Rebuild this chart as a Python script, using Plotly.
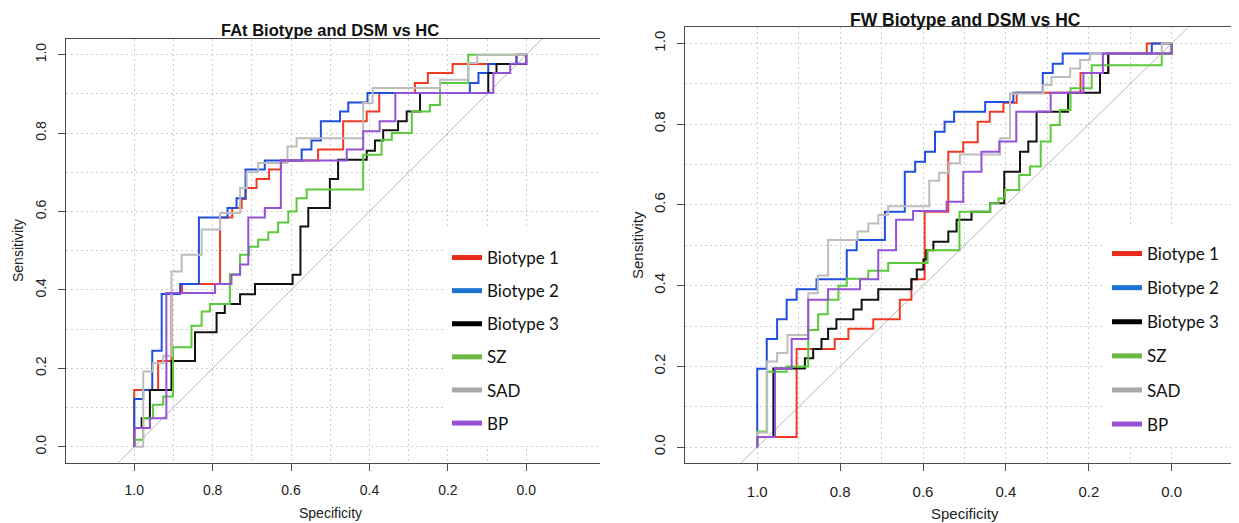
import plotly.graph_objects as go

# The page body adds an 8px margin, so the figure is laid out in page pixels minus that offset.
PAGE_W, PAGE_H, OFF = 1239, 523, 8
W, H = PAGE_W - OFF, PAGE_H - OFF

GROUPS = ["Biotype 1", "Biotype 2", "Biotype 3", "SZ", "SAD", "BP"]
CURVE_COLORS = ["#ef3b24", "#1f4fdc", "#111111", "#5cc93b", "#bdbdbd", "#9452d6"]
LEGEND_COLORS = ["#e8291c", "#1c74d4", "#000000", "#6bb843", "#a9a9a9", "#9b51d4"]
TICK_VALS = [1.0, 0.8, 0.6, 0.4, 0.2, 0.0]
TICK_TEXT = ["1.0", "0.8", "0.6", "0.4", "0.2", "0.0"]
MINOR_VALS = [0.9, 0.7, 0.5, 0.3, 0.1]
PANEL_TITLES = ["FAt Biotype and DSM vs HC", "FW Biotype and DSM vs HC"]

# ---- FAt panel: (specificity, sensitivity) ROC points ----
FAT_B1 = [(1.000,0.000),(1.000,0.145),(0.939,0.145),(0.939,0.219),(0.905,0.219),(0.905,0.392),(0.878,0.392),(0.878,0.415),(0.781,0.415),(0.781,0.585),(0.750,0.585),(0.750,0.609),(0.726,0.609),(0.726,0.632),(0.716,0.632),(0.716,0.660),(0.688,0.660),(0.688,0.683),(0.656,0.683),(0.656,0.707),(0.626,0.707),(0.626,0.730),(0.531,0.730),(0.531,0.758),(0.467,0.758),(0.467,0.830),(0.407,0.830),(0.407,0.855),(0.375,0.855),(0.375,0.902),(0.284,0.902),(0.284,0.928),(0.251,0.928),(0.251,0.953),(0.188,0.953),(0.188,0.976),(0.025,0.976),(0.025,1.000),(0.000,1.000)]
FAT_B2 = [(1.000,0.000),(1.000,0.122),(0.977,0.122),(0.977,0.145),(0.954,0.145),(0.954,0.245),(0.930,0.245),(0.930,0.390),(0.883,0.390),(0.883,0.415),(0.835,0.415),(0.835,0.585),(0.762,0.585),(0.762,0.609),(0.739,0.609),(0.739,0.634),(0.716,0.634),(0.716,0.707),(0.667,0.707),(0.667,0.730),(0.573,0.730),(0.573,0.758),(0.548,0.758),(0.548,0.781),(0.524,0.781),(0.524,0.830),(0.475,0.830),(0.475,0.855),(0.454,0.855),(0.454,0.878),(0.405,0.878),(0.405,0.902),(0.144,0.902),(0.144,0.928),(0.122,0.928),(0.122,0.953),(0.097,0.953),(0.097,0.976),(0.025,0.976),(0.025,1.000),(0.000,1.000)]
FAT_B3 = [(1.000,0.000),(1.000,0.048),(0.981,0.048),(0.981,0.073),(0.960,0.073),(0.960,0.145),(0.905,0.145),(0.905,0.219),(0.845,0.219),(0.845,0.292),(0.790,0.292),(0.790,0.341),(0.769,0.341),(0.769,0.364),(0.730,0.364),(0.730,0.389),(0.692,0.389),(0.692,0.415),(0.596,0.415),(0.596,0.439),(0.576,0.439),(0.576,0.562),(0.556,0.562),(0.556,0.609),(0.501,0.609),(0.501,0.683),(0.480,0.683),(0.480,0.732),(0.407,0.732),(0.407,0.755),(0.386,0.755),(0.386,0.781),(0.365,0.781),(0.365,0.807),(0.327,0.807),(0.327,0.830),(0.305,0.830),(0.305,0.855),(0.271,0.855),(0.271,0.902),(0.097,0.902),(0.097,0.953),(0.076,0.953),(0.076,0.976),(0.000,0.976),(0.000,1.000)]
FAT_SZ = [(1.000,0.000),(1.000,0.018),(0.977,0.018),(0.977,0.073),(0.952,0.073),(0.952,0.107),(0.926,0.107),(0.926,0.128),(0.901,0.128),(0.901,0.254),(0.854,0.254),(0.854,0.309),(0.828,0.309),(0.828,0.345),(0.807,0.345),(0.807,0.364),(0.756,0.364),(0.756,0.440),(0.730,0.440),(0.730,0.490),(0.707,0.490),(0.707,0.510),(0.684,0.510),(0.684,0.528),(0.658,0.528),(0.658,0.547),(0.633,0.547),(0.633,0.572),(0.607,0.572),(0.607,0.600),(0.586,0.600),(0.586,0.634),(0.560,0.634),(0.560,0.656),(0.416,0.656),(0.416,0.745),(0.369,0.745),(0.369,0.783),(0.343,0.783),(0.343,0.800),(0.292,0.800),(0.292,0.855),(0.246,0.855),(0.246,0.872),(0.220,0.872),(0.220,0.928),(0.148,0.928),(0.148,1.000),(0.000,1.000)]
FAT_SAD = [(1.000,0.000),(0.977,0.000),(0.977,0.192),(0.952,0.192),(0.952,0.213),(0.926,0.213),(0.926,0.232),(0.905,0.232),(0.905,0.447),(0.879,0.447),(0.879,0.490),(0.828,0.490),(0.828,0.554),(0.781,0.554),(0.781,0.596),(0.730,0.596),(0.730,0.660),(0.713,0.660),(0.713,0.700),(0.684,0.700),(0.684,0.724),(0.609,0.724),(0.609,0.766),(0.586,0.766),(0.586,0.787),(0.416,0.787),(0.416,0.877),(0.392,0.877),(0.392,0.915),(0.220,0.915),(0.220,0.936),(0.148,0.936),(0.148,0.979),(0.125,0.979),(0.125,1.000),(0.000,1.000)]
FAT_BP = [(1.000,0.000),(1.000,0.048),(0.960,0.048),(0.960,0.073),(0.918,0.073),(0.918,0.392),(0.794,0.392),(0.794,0.415),(0.752,0.415),(0.752,0.439),(0.730,0.439),(0.730,0.465),(0.709,0.465),(0.709,0.585),(0.667,0.585),(0.667,0.609),(0.626,0.609),(0.626,0.730),(0.458,0.730),(0.458,0.758),(0.416,0.758),(0.416,0.805),(0.374,0.805),(0.374,0.830),(0.334,0.830),(0.334,0.902),(0.084,0.902),(0.084,0.953),(0.041,0.953),(0.041,0.977),(0.000,0.977),(0.000,1.000)]

# ---- FW panel ----
FW_B1 = [(1.000,0.000),(1.000,0.025),(0.905,0.025),(0.905,0.243),(0.813,0.243),(0.813,0.268),(0.780,0.268),(0.780,0.293),(0.720,0.293),(0.720,0.317),(0.656,0.317),(0.656,0.365),(0.628,0.365),(0.628,0.416),(0.596,0.416),(0.596,0.583),(0.539,0.583),(0.539,0.732),(0.503,0.732),(0.503,0.755),(0.468,0.755),(0.468,0.806),(0.439,0.806),(0.439,0.831),(0.406,0.831),(0.406,0.853),(0.374,0.853),(0.374,0.878),(0.220,0.878),(0.220,0.927),(0.153,0.927),(0.153,0.975),(0.060,0.975),(0.060,1.000),(0.000,1.000)]
FW_B2 = [(1.000,0.000),(1.000,0.194),(0.977,0.194),(0.977,0.268),(0.952,0.268),(0.952,0.317),(0.929,0.317),(0.929,0.365),(0.905,0.365),(0.905,0.391),(0.857,0.391),(0.857,0.416),(0.784,0.416),(0.784,0.488),(0.760,0.488),(0.760,0.513),(0.692,0.513),(0.692,0.583),(0.644,0.583),(0.644,0.682),(0.619,0.682),(0.619,0.707),(0.595,0.707),(0.595,0.732),(0.571,0.732),(0.571,0.781),(0.548,0.781),(0.548,0.806),(0.525,0.806),(0.525,0.831),(0.450,0.831),(0.450,0.855),(0.382,0.855),(0.382,0.878),(0.311,0.878),(0.311,0.927),(0.287,0.927),(0.287,0.950),(0.263,0.950),(0.263,0.975),(0.048,0.975),(0.048,1.000),(0.000,1.000)]
FW_B3 = [(1.000,0.000),(1.000,0.025),(0.961,0.025),(0.961,0.195),(0.885,0.195),(0.885,0.220),(0.865,0.220),(0.865,0.243),(0.845,0.243),(0.845,0.268),(0.829,0.268),(0.829,0.293),(0.809,0.293),(0.809,0.317),(0.768,0.317),(0.768,0.341),(0.748,0.341),(0.748,0.365),(0.708,0.365),(0.708,0.391),(0.628,0.391),(0.628,0.416),(0.615,0.416),(0.615,0.440),(0.599,0.440),(0.599,0.465),(0.592,0.465),(0.592,0.488),(0.575,0.488),(0.575,0.509),(0.539,0.509),(0.539,0.534),(0.519,0.534),(0.519,0.563),(0.483,0.563),(0.483,0.583),(0.438,0.583),(0.438,0.604),(0.404,0.604),(0.404,0.682),(0.366,0.682),(0.366,0.732),(0.346,0.732),(0.346,0.757),(0.326,0.757),(0.326,0.831),(0.250,0.831),(0.250,0.878),(0.173,0.878),(0.173,0.927),(0.153,0.927),(0.153,0.975),(0.000,0.975),(0.000,1.000)]
FW_SZ = [(1.000,0.000),(1.000,0.039),(0.977,0.039),(0.977,0.187),(0.929,0.187),(0.929,0.200),(0.877,0.200),(0.877,0.290),(0.853,0.290),(0.853,0.329),(0.830,0.329),(0.830,0.365),(0.804,0.365),(0.804,0.400),(0.784,0.400),(0.784,0.417),(0.732,0.417),(0.732,0.437),(0.684,0.437),(0.684,0.456),(0.589,0.456),(0.589,0.488),(0.512,0.488),(0.512,0.583),(0.438,0.583),(0.438,0.604),(0.418,0.604),(0.418,0.616),(0.402,0.616),(0.402,0.637),(0.368,0.637),(0.368,0.674),(0.342,0.674),(0.342,0.695),(0.316,0.695),(0.316,0.757),(0.292,0.757),(0.292,0.798),(0.270,0.798),(0.270,0.835),(0.244,0.835),(0.244,0.889),(0.193,0.889),(0.193,0.946),(0.024,0.946),(0.024,0.975),(0.000,0.975),(0.000,1.000)]
FW_SAD = [(1.000,0.000),(1.000,0.036),(0.976,0.036),(0.976,0.212),(0.952,0.212),(0.952,0.233),(0.927,0.233),(0.927,0.278),(0.877,0.278),(0.877,0.381),(0.854,0.381),(0.854,0.425),(0.829,0.425),(0.829,0.513),(0.758,0.513),(0.758,0.534),(0.732,0.534),(0.732,0.554),(0.708,0.554),(0.708,0.575),(0.684,0.575),(0.684,0.597),(0.585,0.597),(0.585,0.660),(0.561,0.660),(0.561,0.680),(0.537,0.680),(0.537,0.703),(0.511,0.703),(0.511,0.725),(0.414,0.725),(0.414,0.765),(0.390,0.765),(0.390,0.876),(0.310,0.876),(0.310,0.897),(0.290,0.897),(0.290,0.917),(0.245,0.917),(0.245,0.938),(0.221,0.938),(0.221,0.959),(0.197,0.959),(0.197,0.975),(0.024,0.975),(0.024,1.000),(0.000,1.000)]
FW_BP = [(1.000,0.000),(1.000,0.025),(0.957,0.025),(0.957,0.195),(0.917,0.195),(0.917,0.268),(0.877,0.268),(0.877,0.365),(0.829,0.365),(0.829,0.391),(0.752,0.391),(0.752,0.416),(0.708,0.416),(0.708,0.488),(0.665,0.488),(0.665,0.563),(0.624,0.563),(0.624,0.585),(0.543,0.585),(0.543,0.608),(0.503,0.608),(0.503,0.682),(0.459,0.682),(0.459,0.732),(0.416,0.732),(0.416,0.757),(0.375,0.757),(0.375,0.831),(0.292,0.831),(0.292,0.878),(0.213,0.878),(0.213,0.927),(0.166,0.927),(0.166,0.975),(0.000,0.975),(0.000,1.000)]

FAT_CURVES = [FAT_B1, FAT_B2, FAT_B3, FAT_SZ, FAT_SAD, FAT_BP]
FW_CURVES = [FW_B1, FW_B2, FW_B3, FW_SZ, FW_SAD, FW_BP]

# ---- layout geometry, in page pixels ----
PANELS = [
    dict(curves=FAT_CURVES, xa="x", ya="y", legend="legend",
         px_x=(66, 600), px_y=(39, 462.5), xrange=(1.174, -0.188),
         title_xy=(330, 30), title_size=16.5, tick_size=14, lab_size=14,
         xlab_xy=(330, 513), ylab_xy=(18, 251),
         leg_xy=(447, 240), leg_gap=8, box_px=(445, 600, 226, 446)),
    dict(curves=FW_CURVES, xa="x2", ya="y2", legend="legend2",
         px_x=(684.7, PAGE_W), px_y=(27.3, 463.3), xrange=(1.175, -0.1624),
         title_xy=(965, 19.5), title_size=17.5, tick_size=15, lab_size=15,
         xlab_xy=(965, 513), ylab_xy=(637, 245),
         leg_xy=(1107, 236), leg_gap=9, box_px=(1104, PAGE_W, 226, 446)),
]
YRANGE = (-0.04, 1.04)
FONT = "Liberation Sans, Arial, Helvetica, sans-serif"
GRID = "#cdcdcd"


def fx(px):
    return (px - OFF) / W


def fy(py):
    return 1 - (py - OFF) / H


fig = go.Figure()
layout = dict(width=W, height=H, margin=dict(l=0, r=0, t=0, b=0),
              paper_bgcolor="white", plot_bgcolor="white", showlegend=True)
annotations = []
shapes = []

for idx, p in enumerate(PANELS):
    x0, x1 = p["px_x"]
    yt, yb = p["px_y"]
    xdom = [max(0.0, fx(x0)), min(1.0, fx(x1))]
    ydom = [fy(yb), fy(yt)]
    xr = p["xrange"]

    def px_to_x(px, x0=x0, x1=x1, xr=xr):
        return xr[0] + (px - x0) / (x1 - x0) * (xr[1] - xr[0])

    def px_to_y(py, yt=yt, yb=yb):
        return YRANGE[0] + (yb - py) / (yb - yt) * (YRANGE[1] - YRANGE[0])

    axis_common = dict(
        showline=True, linecolor="#4a4a4a", linewidth=1,
        ticks="outside", ticklen=7, tickcolor="#4a4a4a",
        tickmode="array", tickvals=TICK_VALS, ticktext=TICK_TEXT,
        showgrid=True, gridcolor=GRID, griddash="2px,3px", gridwidth=1,
        minor=dict(tickmode="array", tickvals=MINOR_VALS, showgrid=True,
                   gridcolor=GRID, griddash="2px,3px", gridwidth=1),
        zeroline=False, tickfont=dict(family=FONT, size=p["tick_size"], color="#222222"),
    )
    xname = "xaxis" if idx == 0 else "xaxis2"
    yname = "yaxis" if idx == 0 else "yaxis2"
    layout[xname] = dict(axis_common, domain=xdom, range=list(xr), anchor=p["ya"],
                         mirror=True, ticklabelstandoff=8)
    layout[yname] = dict(axis_common, domain=ydom, range=list(YRANGE), anchor=p["xa"],
                         mirror=False, tickangle=-90, ticklabelstandoff=6)

    # chance diagonal sens = 1 - spec
    shapes.append(dict(type="line", xref=p["xa"], yref=p["ya"],
                       x0=1 - YRANGE[0], y0=YRANGE[0], x1=1 - YRANGE[1], y1=YRANGE[1],
                       line=dict(color="#b8b8b8", width=1), layer="between"))
    # white legend area
    bx0, bx1, by0, by1 = p["box_px"]
    shapes.append(dict(type="rect", xref=p["xa"], yref=p["ya"],
                       x0=px_to_x(bx0), x1=px_to_x(bx1), y0=px_to_y(by1), y1=px_to_y(by0),
                       fillcolor="white", line=dict(width=0), layer="between"))

    for name, curve, color in zip(GROUPS, p["curves"], CURVE_COLORS):
        fig.add_trace(go.Scatter(
            x=[pt[0] for pt in curve], y=[pt[1] for pt in curve], mode="lines",
            line=dict(color=color, width=2), xaxis=p["xa"], yaxis=p["ya"],
            name=name, showlegend=False, hoverinfo="skip"))
    for name, color in zip(GROUPS, LEGEND_COLORS):
        fig.add_trace(go.Scatter(
            x=[None], y=[None], mode="lines", line=dict(color=color, width=5),
            xaxis=p["xa"], yaxis=p["ya"], name=name, legend=p["legend"],
            legendgroup=p["legend"] + name, showlegend=True))

    lx, ly = p["leg_xy"]
    layout[p["legend"]] = dict(x=fx(lx), y=fy(ly), xanchor="left", yanchor="top",
                               bgcolor="white", borderwidth=0, tracegroupgap=p["leg_gap"],
                               itemwidth=30,
                               font=dict(family="Lato, Open Sans, sans-serif", size=17, color="#111111"))

    tx, ty = p["title_xy"]
    annotations.append(dict(text="<b>" + PANEL_TITLES[idx] + "</b>",
                            x=fx(tx), y=fy(ty), xref="paper", yref="paper",
                            xanchor="center", yanchor="middle", showarrow=False, borderpad=0,
                            font=dict(family=FONT, size=p["title_size"], color="#111111")))
    xx, xy = p["xlab_xy"]
    annotations.append(dict(text="Specificity", x=fx(xx), y=fy(xy), xref="paper", yref="paper",
                            xanchor="center", yanchor="middle", showarrow=False, borderpad=0,
                            font=dict(family=FONT, size=p["lab_size"], color="#222222")))
    yx, yy = p["ylab_xy"]
    annotations.append(dict(text="Sensitivity", x=fx(yx), y=fy(yy), xref="paper", yref="paper",
                            xanchor="center", yanchor="middle", showarrow=False, textangle=-90,
                            borderpad=0,
                            font=dict(family=FONT, size=p["lab_size"], color="#222222")))

layout["annotations"] = annotations
layout["shapes"] = shapes
fig.update_layout(**layout)
fig.write_html("out.html")
